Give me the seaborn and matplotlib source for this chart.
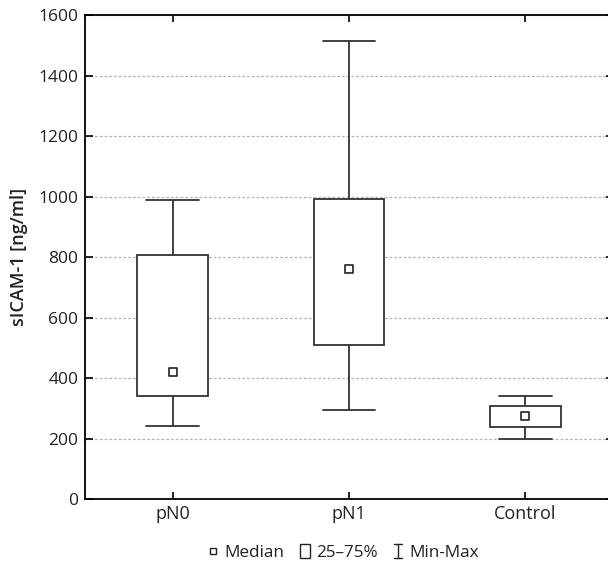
import numpy as np
import pandas as pd
import matplotlib
matplotlib.use("Agg")
import matplotlib.pyplot as plt
import seaborn as sns
from matplotlib.lines import Line2D
from matplotlib.patches import Rectangle
from matplotlib.legend_handler import HandlerBase

# Five-number summaries of sICAM-1 (ng/ml) per group
groups = ["pN0", "pN1", "Control"]
minimum = [243, 296, 199]
q1 = [343, 509, 240]
median = [421, 762, 275]
q3 = [806, 993, 309]
maximum = [988, 1515, 342]

y_ticks = [0, 200, 400, 600, 800, 1000, 1200, 1400, 1600]
y_label = "sICAM-1 [ng/ml]"
legend_labels = ["Median", "25–75%", "Min-Max"]

sns.set_theme(style="white")
plt.rcParams["font.family"] = ["Open Sans", "DejaVu Sans"]

INK = "#222222"
LINE = "#333333"

# The five summary points of each group reproduce its quartiles exactly
rows = []
for g, a, b, c, d, e in zip(groups, minimum, q1, median, q3, maximum):
    for v in (a, b, c, d, e):
        rows.append({"group": g, "value": v})
df = pd.DataFrame(rows)
med_df = pd.DataFrame({"group": groups, "value": median})

fig = plt.figure(figsize=(6.08, 5.66), dpi=100)
ax = fig.add_axes([84.5 / 608, 66.7 / 566, 529 / 608, 484 / 566])

sns.boxplot(
    data=df, x="group", y="value", order=groups, whis=(0, 100),
    width=0.40, color="white", linecolor=LINE, linewidth=1.3,
    showfliers=False, medianprops={"visible": False}, ax=ax,
)

# Caps a bit narrower than the boxes
for cont in ax.containers:
    for cap in getattr(cont, "caps", []):
        xs = np.asarray(cap.get_xdata(), dtype=float)
        mid = xs.mean()
        cap.set_xdata(mid + (xs - mid) * 1.5)

sns.scatterplot(
    data=med_df, x="group", y="value", marker="s", s=30,
    facecolor="white", edgecolor=INK, linewidth=1.2, zorder=5,
    legend=False, ax=ax,
)

ax.set_xlim(-0.5, 2.5)
ax.set_ylim(0, 1600)
ax.set_yticks(y_ticks)
ax.set_xlabel("")
ax.set_ylabel(y_label, fontsize=13, fontweight="semibold", color=INK)
ax.yaxis.set_label_coords(-0.106, 0.5)

ax.yaxis.grid(True, color="#b4b4b4", linestyle=(0, (2.2, 1.6)), linewidth=0.9)
ax.xaxis.grid(False)
ax.set_axisbelow(True)

for side in ("left", "bottom", "top", "right"):
    ax.spines[side].set_visible(True)
    ax.spines[side].set_color("black")
    ax.spines[side].set_linewidth(1.3)

ax.tick_params(axis="y", which="both", direction="in", length=5.5, width=1.2,
               color="black", left=True, right=True, labelsize=12.5,
               labelcolor=INK, pad=4.5)
ax.tick_params(axis="x", which="both", direction="in", length=5, width=1.2,
               color="black", bottom=True, top=True, labelsize=13,
               labelcolor=INK, pad=4)


class MedianHandler(HandlerBase):
    def create_artists(self, legend, orig, xd, yd, w, h, fs, trans):
        cx, cy = w / 2 - xd, h / 2 - yd
        s = 4.6
        r = Rectangle((cx - s / 2, cy - s / 2), s, s, facecolor="white",
                      edgecolor=INK, linewidth=1.0, transform=trans)
        return [r]


class BoxHandler(HandlerBase):
    def create_artists(self, legend, orig, xd, yd, w, h, fs, trans):
        cx, cy = w / 2 - xd, h / 2 - yd
        bw, bh = 7.0, 10.5
        r = Rectangle((cx - bw / 2, cy - bh / 2), bw, bh, facecolor="white",
                      edgecolor=INK, linewidth=1.0, transform=trans)
        return [r]


class RangeHandler(HandlerBase):
    def create_artists(self, legend, orig, xd, yd, w, h, fs, trans):
        cx, cy = w / 2 - xd, h / 2 - yd
        hh, cw = 5.2, 2.6
        kw = dict(color=INK, linewidth=1.0, transform=trans)
        return [
            Line2D([cx, cx], [cy - hh, cy + hh], **kw),
            Line2D([cx - cw, cx + cw], [cy + hh, cy + hh], **kw),
            Line2D([cx - cw, cx + cw], [cy - hh, cy - hh], **kw),
        ]


handles = [Line2D([], []), Rectangle((0, 0), 1, 1), Line2D([], [], color="k")]
handler_map = {
    handles[0]: MedianHandler(),
    handles[1]: BoxHandler(),
    handles[2]: RangeHandler(),
}
fig.legend(
    handles, legend_labels, handler_map=handler_map,
    loc="center", bbox_to_anchor=(343 / 608, 1 - 553 / 566),
    ncol=3, frameon=False, fontsize=12.3, handlelength=0.7,
    handletextpad=0.3, columnspacing=0.85, labelcolor=INK,
)

fig.savefig("out.png", dpi=100)
